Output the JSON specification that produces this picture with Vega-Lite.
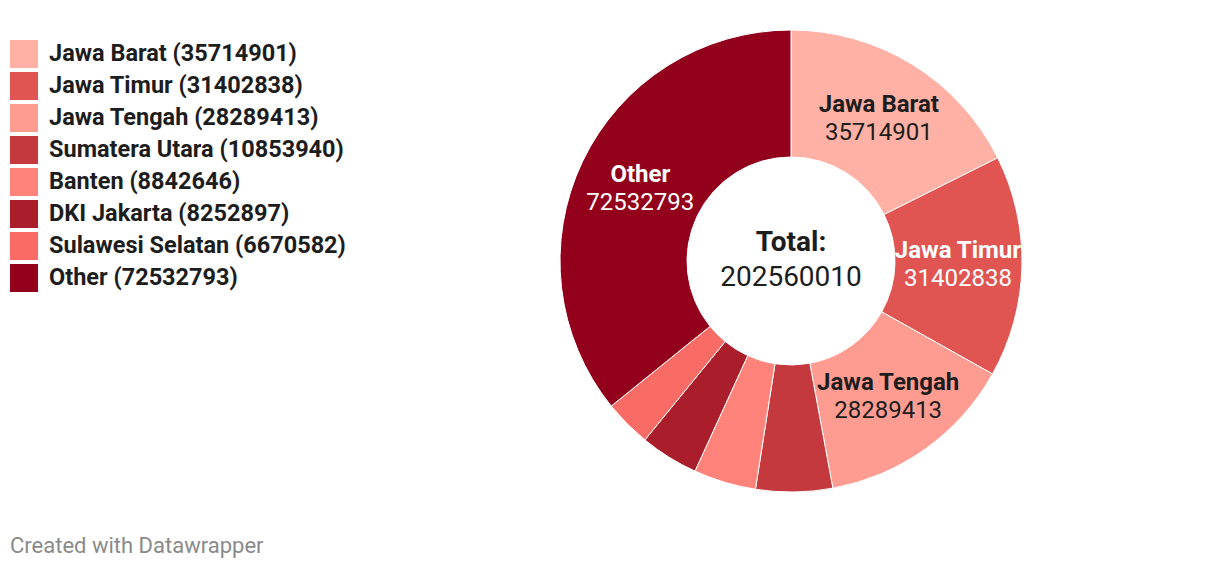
{
  "$schema": "https://vega.github.io/schema/vega-lite/v6.json",
  "width": 462,
  "height": 462,
  "autosize": {"type": "none"},
  "padding": {"left": 560, "top": 30, "right": 198, "bottom": 76},
  "background": "white",
  "config": {"view": {"stroke": null}, "font": "Roboto"},
  "title": {
    "text": "Created with Datawrapper",
    "orient": "bottom",
    "anchor": "start",
    "frame": "group",
    "dx": -550,
    "offset": 42,
    "baseline": "top",
    "fontSize": 22,
    "fontWeight": "normal",
    "font": "Roboto",
    "color": "#8a8a8a"
  },
  "data": {
    "values": [
      {"order": 1, "name": "Jawa Barat", "value": 35714901, "legend": "Jawa Barat (35714901)"},
      {"order": 2, "name": "Jawa Timur", "value": 31402838, "legend": "Jawa Timur (31402838)"},
      {"order": 3, "name": "Jawa Tengah", "value": 28289413, "legend": "Jawa Tengah (28289413)"},
      {"order": 4, "name": "Sumatera Utara", "value": 10853940, "legend": "Sumatera Utara (10853940)"},
      {"order": 5, "name": "Banten", "value": 8842646, "legend": "Banten (8842646)"},
      {"order": 6, "name": "DKI Jakarta", "value": 8252897, "legend": "DKI Jakarta (8252897)"},
      {"order": 7, "name": "Sulawesi Selatan", "value": 6670582, "legend": "Sulawesi Selatan (6670582)"},
      {"order": 8, "name": "Other", "value": 72532793, "legend": "Other (72532793)"}
    ]
  },
  "layer": [
    {
      "mark": {"type": "arc", "outerRadius": 231, "innerRadius": 104, "stroke": "white", "strokeWidth": 1},
      "encoding": {
        "theta": {"field": "value", "type": "quantitative", "stack": true},
        "order": {"field": "order", "type": "quantitative"},
        "color": {
          "field": "legend",
          "type": "nominal",
          "scale": {
            "domain": ["Jawa Barat (35714901)", "Jawa Timur (31402838)", "Jawa Tengah (28289413)", "Sumatera Utara (10853940)", "Banten (8842646)", "DKI Jakarta (8252897)", "Sulawesi Selatan (6670582)", "Other (72532793)"],
            "range": ["#ffb1a5", "#e05552", "#ff9c91", "#c3393d", "#ff837a", "#a91e2a", "#f96b65", "#92001b"]
          },
          "legend": {
            "title": null,
            "orient": "none",
            "legendX": -550,
            "legendY": 10,
            "padding": 0,
            "symbolType": "square",
            "symbolSize": 784,
            "symbolStrokeWidth": 0,
            "symbolOpacity": 1,
            "labelFont": "Roboto",
            "labelFontSize": 23.5,
            "labelFontWeight": "bold",
            "labelColor": "#1d1d1d",
            "labelOffset": 11,
            "labelLimit": 500,
            "rowPadding": 4
          }
        }
      }
    },
    {
      "mark": {"type": "text", "radius": 167, "dy": -14, "fontSize": 24, "fontWeight": "bold", "font": "Roboto"},
      "encoding": {
        "theta": {"field": "value", "type": "quantitative", "stack": true},
        "order": {"field": "order", "type": "quantitative"},
        "detail": {"field": "name", "type": "nominal"},
        "text": {"condition": {"test": "datum.value > 20000000", "field": "name", "type": "nominal"}, "value": ""},
        "color": {"condition": {"test": "datum.name === 'Jawa Timur' || datum.name === 'Other'", "value": "white"}, "value": "#1d1d1d"}
      }
    },
    {
      "mark": {"type": "text", "radius": 167, "dy": 14, "fontSize": 24, "fontWeight": "normal", "font": "Roboto"},
      "encoding": {
        "theta": {"field": "value", "type": "quantitative", "stack": true},
        "order": {"field": "order", "type": "quantitative"},
        "detail": {"field": "name", "type": "nominal"},
        "text": {"condition": {"test": "datum.value > 20000000", "field": "value", "type": "quantitative", "format": "d"}, "value": ""},
        "color": {"condition": {"test": "datum.name === 'Jawa Timur' || datum.name === 'Other'", "value": "white"}, "value": "#1d1d1d"}
      }
    },
    {
      "transform": [{"aggregate": [{"op": "sum", "field": "value", "as": "total"}]}],
      "mark": {"type": "text", "dy": -18, "fontSize": 28, "fontWeight": "bold", "font": "Roboto", "color": "#1d1d1d"},
      "encoding": {"text": {"value": "Total:"}}
    },
    {
      "transform": [{"aggregate": [{"op": "sum", "field": "value", "as": "total"}]}],
      "mark": {"type": "text", "dy": 17, "fontSize": 28, "fontWeight": "normal", "font": "Roboto", "color": "#1d1d1d"},
      "encoding": {"text": {"field": "total", "type": "quantitative", "format": "d"}}
    }
  ]
}
